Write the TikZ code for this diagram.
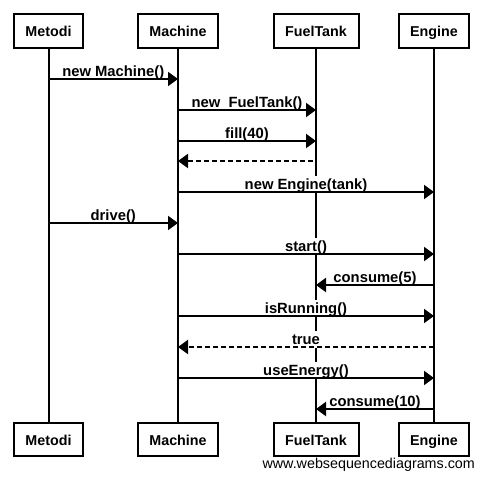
\documentclass[tikz,border=0pt]{standalone}
\usepackage{fontspec}
\setmainfont{Liberation Sans}
\usetikzlibrary{arrows.meta,calc}
\tikzset{
  actor/.style={draw=black, line width=2pt, fill=white, minimum height=34pt, inner sep=0pt,
    text height=11pt, text depth=0pt, font=\fontsize{14.3}{16}\selectfont\bfseries},
  life/.style={line width=2pt},
  msg/.style={line width=2pt, -{Triangle[length=10pt,width=14pt]}},
  ret/.style={msg, dash pattern=on 5pt off 3pt},
  lbl/.style={fill=white, inner xsep=1pt, inner ysep=1pt, anchor=base, text height=12pt, text depth=3pt,
    font=\fontsize{14.8}{16}\selectfont\bfseries}
}
\begin{document}
\begin{tikzpicture}[x=1pt,y=-1pt]
\useasboundingbox (0,0) rectangle (483,480);
% actors top
\node[actor, minimum width=69pt] (mt) at (48.5,31) {Metodi};
\node[actor, minimum width=80pt] (mat) at (178,31) {Machine};
\node[actor, minimum width=85pt] (ft) at (316,31) {FuelTank};
\node[actor, minimum width=70pt] (et) at (434,31) {Engine};
% actors bottom
\node[actor, minimum width=69pt, minimum height=33pt] (mb) at (48.5,439.5) {Metodi};
\node[actor, minimum width=80pt, minimum height=33pt] (mab) at (178,439.5) {Machine};
\node[actor, minimum width=85pt, minimum height=33pt] (fb) at (316,439.5) {FuelTank};
\node[actor, minimum width=70pt, minimum height=33pt] (eb) at (434,439.5) {Engine};
% lifelines
\draw[life] (mt) -- (mb);
\draw[life] (mat) -- (mab);
\draw[life] (ft) -- (fb);
\draw[life] (et) -- (eb);
% message rows
\coordinate (r1) at (0,79);
\coordinate (r2) at (0,110);
\coordinate (r3) at (0,141);
\coordinate (r4) at (0,161);
\coordinate (r5) at (0,192);
\coordinate (r6) at (0,223);
\coordinate (r7) at (0,254);
\coordinate (r8) at (0,285);
\coordinate (r9) at (0,316);
\coordinate (r10) at (0,347);
\coordinate (r11) at (0,378);
\coordinate (r12) at (0,409);
% labels
\node[lbl] (l1) at ([yshift=3pt]$(mt.south |- r1)!0.5!(mat.south |- r1)$) {new Machine()};
\node[lbl] (l2) at ([yshift=3pt]$(mat.south |- r2)!0.5!(ft.south |- r2)$) {new\ \ FuelTank()};
\node[lbl] (l3) at ([yshift=3pt]$(mat.south |- r3)!0.5!(ft.south |- r3)$) {fill(40)};
\node[lbl] (l5) at ([yshift=3pt]$(mat.south |- r5)!0.5!(et.south |- r5)$) {new Engine(tank)};
\node[lbl] (l6) at ([yshift=3pt]$(mt.south |- r6)!0.5!(mat.south |- r6)$) {drive()};
\node[lbl] (l7) at ([yshift=3pt]$(mat.south |- r7)!0.5!(et.south |- r7)$) {start()};
\node[lbl] (l8) at ([yshift=3pt]$(ft.south |- r8)!0.5!(et.south |- r8)$) {consume(5)};
\node[lbl] (l9) at ([yshift=3pt]$(mat.south |- r9)!0.5!(et.south |- r9)$) {isRunning()};
\node[lbl] (l10) at ([yshift=3pt]$(mat.south |- r10)!0.5!(et.south |- r10)$) {true};
\node[lbl] (l11) at ([yshift=3pt]$(mat.south |- r11)!0.5!(et.south |- r11)$) {useEnergy()};
\node[lbl] (l12) at ([yshift=3pt]$(ft.south |- r12)!0.5!(et.south |- r12)$) {consume(10)};
% messages
\draw[msg] (mt.south |- r1) -- (mat.south |- r1);
\draw[msg] (mat.south |- r2) -- (ft.south |- r2);
\draw[msg] (mat.south |- r3) -- (ft.south |- r3);
\draw[ret] ([xshift=-3pt]ft.south |- r4) -- (mat.south |- r4);
\draw[msg] (mat.south |- r5) -- (et.south |- r5);
\draw[msg] (mt.south |- r6) -- (mat.south |- r6);
\draw[msg] (mat.south |- r7) -- (et.south |- r7);
\draw[msg] (et.south |- r8) -- (ft.south |- r8);
\draw[msg] (mat.south |- r9) -- (et.south |- r9);
\draw[ret] (et.south |- r10) -- (mat.south |- r10);
\draw[msg] (mat.south |- r11) -- (et.south |- r11);
\draw[msg] (et.south |- r12) -- (ft.south |- r12);
% footer
\node[anchor=base east, inner sep=0pt, font=\fontsize{14.3}{16}\selectfont] (wm) at (475,468) {www.websequencediagrams.com};
\end{tikzpicture}
\end{document}
